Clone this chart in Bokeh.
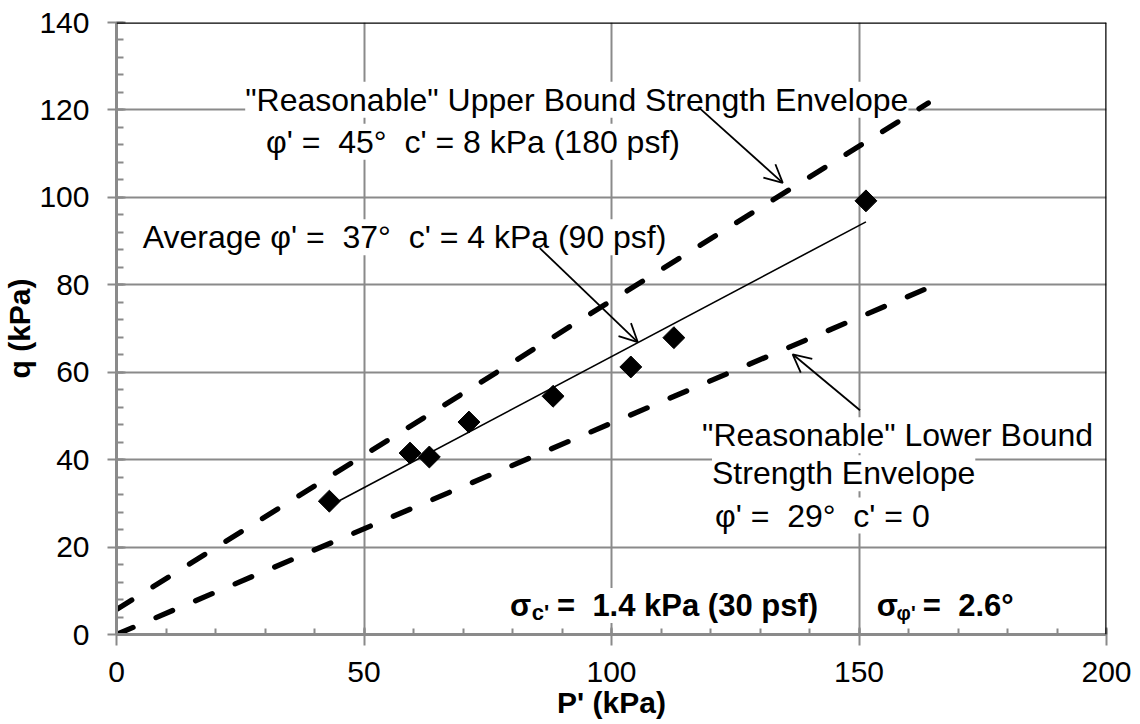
import numpy as np
from bokeh.plotting import figure
from bokeh.models import Label, Arrow, OpenHead, Span, FixedTicker, ColumnDataSource
from bokeh.embed import file_html
from bokeh.resources import INLINE

# ---- data ----
p_prime = [43.0, 59.3, 63.2, 71.2, 88.2, 103.9, 112.6, 151.4]
q_vals = [30.5, 41.5, 40.6, 48.6, 54.5, 61.2, 67.9, 99.2]

upper_x = [0, 164.0]
upper_y = [5.7, 121.6]
lower_x = [0, 167.7]
lower_y = [0, 81.1]
avg_x = [45.0, 151.4]
avg_y = [30.6, 94.4]

x_ticks = [0, 50, 100, 150, 200]
x_minor = list(range(0, 201, 10))
y_ticks = [0, 20, 40, 60, 80, 100, 120, 140]
y_minor = list(range(0, 141, 4))

FONT = "Liberation Sans"
GRID = "#8a8a8a"
S2 = "\u00a0 "  # visible double space

p = figure(width=1140, height=724, x_range=(0, 200), y_range=(0, 140),
           output_backend="svg", toolbar_location=None,
           min_border_left=116, min_border_right=34, min_border_top=22, min_border_bottom=90)
p.outline_line_color = None
p.background_fill_color = "white"

p.xaxis.ticker = FixedTicker(ticks=x_ticks, minor_ticks=x_minor)
p.yaxis.ticker = FixedTicker(ticks=y_ticks, minor_ticks=y_minor)
p.xgrid.ticker = FixedTicker(ticks=x_ticks)
p.ygrid.ticker = FixedTicker(ticks=y_ticks)
for g in (p.xgrid, p.ygrid):
    g.grid_line_color = GRID
    g.grid_line_width = 2

for ax in (p.xaxis, p.yaxis):
    ax.axis_line_color = GRID
    ax.axis_line_width = 3
    ax.major_tick_line_color = GRID
    ax.major_tick_line_width = 2
    ax.minor_tick_line_color = GRID
    ax.minor_tick_line_width = 2
    ax.minor_tick_out = 0
    ax.major_label_text_font = FONT
    ax.major_label_text_font_size = "30px"
    ax.major_label_text_color = "black"
    ax.axis_label_text_font = FONT
    ax.axis_label_text_font_size = "30px"
    ax.axis_label_text_font_style = "bold"
    ax.axis_label_text_color = "black"

p.xaxis.major_tick_in = 7
p.xaxis.major_tick_out = 11
p.xaxis.minor_tick_in = 6
p.xaxis.major_label_standoff = 16
p.xaxis.axis_label = "P' (kPa)"
p.xaxis.axis_label_standoff = 1

p.yaxis.major_tick_in = 9
p.yaxis.major_tick_out = 9
p.yaxis.minor_tick_in = 7
p.yaxis.major_label_standoff = 18
p.yaxis.axis_label = "q (kPa)"
p.yaxis.axis_label_standoff = 0

# top/right black borders
p.add_layout(Span(location=140, dimension="width", line_color="black", line_width=2.5))
p.add_layout(Span(location=200, dimension="height", line_color="black", line_width=2.5))

# envelopes
p.line(upper_x, upper_y, line_color="black", line_width=5.3, line_dash="18 25", line_cap="round")
p.line(lower_x, lower_y, line_color="black", line_width=5.3, line_dash="18 25", line_cap="round")
p.line(avg_x, avg_y, line_color="black", line_width=1.6)

src = ColumnDataSource(dict(x=p_prime, y=q_vals))
p.scatter("x", "y", source=src, marker="square", angle=np.pi / 4, size=15.5,
          fill_color="black", line_color="black")

# text annotations
def lab(x, y, text, size="32px", style="normal"):
    l = Label(x=x, y=y, text=text, text_font=FONT, text_font_size=size,
              text_font_style=style, text_color="black", text_baseline="alphabetic",
              background_fill_color="white")
    p.add_layout(l)
    return l

lab(26.0, 122.3, "\"Reasonable\" Upper Bound Strength Envelope")
lab(30.2, 112.7, "φ' =" + S2 + "45°" + S2 + "c' = 8 kPa (180 psf)")
lab(5.3, 90.9, "Average φ' =" + S2 + "37°" + S2 + "c' = 4 kPa (90 psf)")
lab(118.3, 45.6, "\"Reasonable\" Lower Bound")
lab(120.3, 36.9, "Strength Envelope")
lab(120.9, 27.2, "φ' =" + S2 + "29°" + S2 + "c' = 0")

lab(79.5, 6.64, "σ", size="31px", style="bold")
lab(83.9, 5.0, "c'", size="22px", style="bold")
lab(89.0, 6.64, "=" + S2 + "1.4 kPa (30 psf)", size="31px", style="bold")
lab(153.6, 6.64, "σ", size="31px", style="bold")
lab(157.6, 5.0, "φ'", size="20px", style="bold")
lab(162.9, 6.64, "=" + S2 + "2.6°", size="31px", style="bold")

# arrows
for (xs, ys, xe, ye) in [(117.5, 120.7, 134.6, 103.3),
                         (85.5, 88.4, 105.3, 66.9),
                         (150.2, 51.3, 136.6, 64.1)]:
    p.add_layout(Arrow(x_start=xs, y_start=ys, x_end=xe, y_end=ye,
                       line_color="black", line_width=1.8,
                       end=OpenHead(size=18, line_width=1.8, line_color="black")))

open("out.html", "w").write(file_html(p, INLINE))
